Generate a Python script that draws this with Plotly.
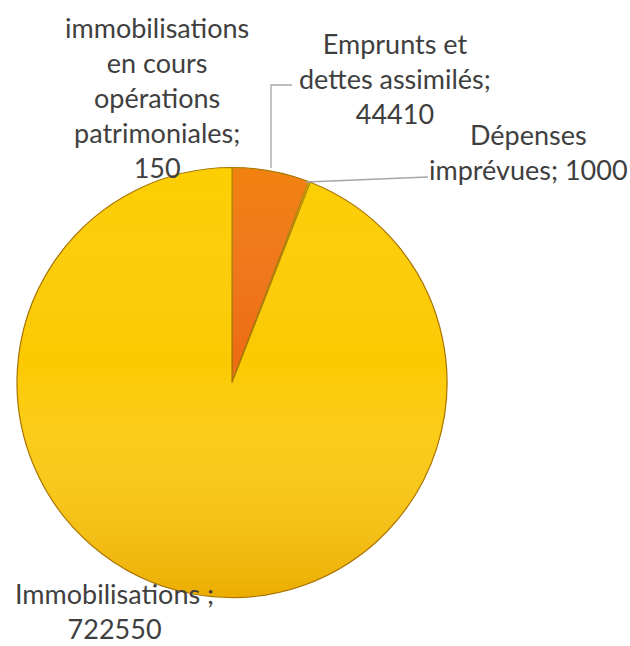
import base64
import plotly.graph_objects as go

W, H = 630, 646

# Data
labels = [
    "immobilisations en cours opérations patrimoniales",
    "Emprunts et dettes assimilés",
    "Dépenses imprévues",
    "Immobilisations ",
]
values = [150, 44410, 1000, 722550]
colors = ["#FCC900", "#EE6C12", "#FCC900", "#FCC900"]

label_texts = [
    "immobilisations<br>en cours<br>opérations<br>patrimoniales;<br>150",
    "Emprunts et<br>dettes assimilés;<br>44410",
    "Dépenses<br>imprévues; 1000",
    "Immobilisations ;<br>722550",
]
# label centres in pixels (layout)
label_pos = [(157, 98), (395, 78), (528, 152), (114, 611)]

# pie box in pixels
PX0, PX1, PY0, PY1 = 17, 447, 167, 598


def px(x, y):
    return x / W, 1 - y / H


fig = go.Figure(
    go.Pie(
        labels=labels,
        values=values,
        sort=False,
        direction="clockwise",
        rotation=0,
        textinfo="none",
        hoverinfo="label+value",
        marker=dict(colors=colors, line=dict(color="#A87400", width=1.2)),
        domain=dict(x=[PX0 / W, PX1 / W], y=[1 - PY1 / H, 1 - PY0 / H]),
        showlegend=False,
    )
)

annotations = []
for t, (x, y) in zip(label_texts, label_pos):
    ax, ay = px(x, y)
    annotations.append(
        dict(
            text=t,
            x=ax,
            y=ay,
            xref="paper",
            yref="paper",
            xanchor="center",
            yanchor="middle",
            showarrow=False,
            align="center",
            font=dict(family="Lato, Carlito, sans-serif", size=27, color="#3F3F3F"),
        )
    )

shapes = []
leaders = [
    [(271, 168), (271, 85), (292, 85)],
    [(306, 182), (428, 177)],
]
for pts in leaders:
    path = ""
    for i, (x, y) in enumerate(pts):
        X, Y = px(x, y)
        path += ("M" if i == 0 else "L") + f"{X},{Y} "
    shapes.append(
        dict(type="path", path=path.strip(), xref="paper", yref="paper",
             line=dict(color="#A6A6A6", width=1.3))
    )

# soft shading overlay (lighter top, darker bottom) like the Excel bevel
svg = (
    '<svg xmlns="http://www.w3.org/2000/svg" width="100" height="100" viewBox="0 0 100 100">'
    '<defs><linearGradient id="g" x1="0" y1="0" x2="0" y2="1">'
    '<stop offset="0" stop-color="#FFE600" stop-opacity="0.18"/>'
    '<stop offset="0.45" stop-color="#FFFFFF" stop-opacity="0"/>'
    '<stop offset="1" stop-color="#D98A00" stop-opacity="0.45"/>'
    '</linearGradient></defs>'
    '<circle cx="50" cy="50" r="49.8" fill="url(#g)"/></svg>'
)
src = "data:image/svg+xml;base64," + base64.b64encode(svg.encode()).decode()
x0, y0 = px(PX0, PY0)
fig.add_layout_image(
    dict(source=src, xref="paper", yref="paper", x=x0, y=y0,
         sizex=(PX1 - PX0) / W, sizey=(PY1 - PY0) / H,
         xanchor="left", yanchor="top", sizing="stretch", layer="above")
)

fig.update_layout(
    width=W,
    height=H,
    margin=dict(l=0, r=0, t=0, b=0),
    paper_bgcolor="white",
    plot_bgcolor="white",
    annotations=annotations,
    shapes=shapes,
)

fig.write_html(
    "out.html",
    config={"displayModeBar": False},
    post_script="document.body.style.margin='0';document.body.style.overflow='hidden';",
)
